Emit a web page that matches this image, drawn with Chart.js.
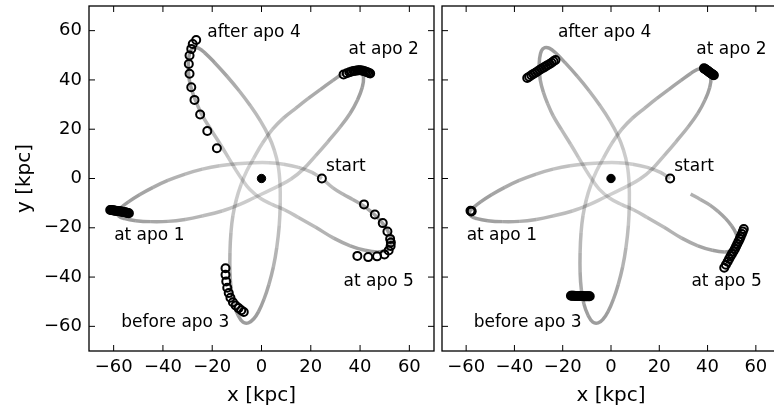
<!DOCTYPE html>
<html>
<head>
<meta charset="utf-8">
<script src="https://cdn.jsdelivr.net/npm/chart.js@4.4.0/dist/chart.umd.min.js"></script>
<style>
  html, body { margin: 0; padding: 0; background: #fff; overflow: hidden; }
  #wrap { position: relative; width: 774px; height: 413px; overflow: hidden; }
  #c1 { position: absolute; left: 0; top: 0; }
  #c2 { position: absolute; left: 436px; top: 0; }
</style>
</head>
<body>
<div id="wrap">
  <canvas id="c1" width="440" height="413"></canvas>
  <canvas id="c2" width="350" height="413"></canvas>
</div>
<script>
// --- Data (kpc) ---

const tickValues = [-60, -40, -20, 0, 20, 40, 60];

// orbit track: start -> apo1 -> apo2 -> apo3 -> apo4 -> apo5 -> back near start
const orbitX = [
    24.5, 20.5, 15, 9, 3, -3, -10, -17, -24, -31, -38, -44, -49.5, -54, -57, -58.6,
    -58, -55.5, -51, -45, -38, -31, -24, -16, -9, -3, 2, 7, 12, 17, 22, 27, 32, 36, 39, 40.9, 41.4, 40.4, 38.2, 35.6,
    33, 29, 24, 19, 14, 9, 4.5, 0.5, -3, -6, -8.3, -10.2, -11.6, -12.4, -12.8, -12.8, -12.3, -11.2, -9.5, -7.5,
    -5.3, -3.2, -1.2, 1, 3, 4.8, 6.2, 7.2, 7.6, 7.5, 6.8, 5.2, 2.8, -0.5, -4.5, -9, -14, -19, -23, -25.6, -27.4,
    -28.8, -29.6, -29.7, -29.3, -28, -26.3, -24, -20.5, -16.8, -13.5, -10.5, -7.8, -4.8, -0.5, 4.5, 9.5, 15, 22, 29.3, 36, 42, 47, 50.5, 52.3,
    52.6, 51.8, 50, 47.5, 44.5, 41, 37, 33, 29, 25.5,
];
const orbitY = [
    0, 2.5, 4.5, 5.8, 6.4, 6.4, 6, 5.2, 3.8, 1.8, -0.8, -3.6, -6.6, -9.5, -11.8, -13.5,
    -15.2, -16.3, -17.1, -17.5, -17.4, -16.6, -15.2, -13.2, -10.6, -7.8, -5.4, -3, -0.2, 3.8, 9.3, 15, 21, 26.5, 32, 37, 41, 43.5, 44.6, 44.2,
    42.6, 39.8, 36.2, 32.5, 28.6, 24.6, 20, 14.5, 8.5, 3, -2.5, -8.5, -15, -22, -30, -38, -45, -51, -55.5, -58.3,
    -58.6, -57, -54, -49, -43, -36, -28, -19, -10, -2, 5, 11.5, 17.5, 23.5, 29.5, 35.5, 41.5, 47, 51, 52.9, 53.1,
    51.8, 48.5, 45, 40, 35, 30.5, 25.5, 19.8, 14, 8.6, 3.6, -0.5, -4.4, -8, -10.6, -12.8, -15.8, -19.8, -24.2, -27.3, -29.1, -29.8, -29.2, -27.6,
    -25.2, -22.3, -19.3, -16.3, -13.5, -10.8, -8.5, -6.3, -3.8, -0.8,
];
// the right panel's track stops this many points earlier
const rightOrbitDrop = 2;

const startX = [24.5];
const startY = [0];
const centreX = [0];
const centreY = [0];

// left panel particles
const leftApo1X = [-61.4, -61, -60.6, -60.2, -59.9, -59.5, -59.1, -58.7, -58.3, -57.9, -57.5, -57.1, -56.7, -56.3, -55.9, -55.4, -55, -54.6, -54.2, -53.8];
const leftApo1Y = [-12.8, -12.8, -12.9, -12.9, -13, -13.1, -13.1, -13.2, -13.2, -13.3, -13.3, -13.4, -13.5, -13.5, -13.6, -13.7, -13.8, -13.9, -14, -14.1];
const leftApo2X = [33.3, 34.6, 35.7, 36.6, 37.4, 38.1, 38.8, 39.4, 40, 40.6, 41.2, 41.8, 42.4, 43, 43.6, 44.1];
const leftApo2Y = [42.2, 42.7, 43.1, 43.4, 43.6, 43.7, 43.8, 43.9, 43.9, 43.8, 43.7, 43.5, 43.3, 43.1, 42.8, 42.6];
const leftApo4X = [-26.5, -27.9, -28.5, -29.2, -29.5, -29.2, -28.5, -27.2, -24.9, -22, -18.1];
const leftApo4Y = [56.2, 54.6, 52.6, 49.9, 46.5, 42.5, 37, 31.9, 26, 19.3, 12.3];
const leftApo3X = [-14.6, -14.6, -14.3, -13.9, -13.3, -12.6, -11.6, -10.5, -9.3, -8.2, -7.2];
const leftApo3Y = [-36.4, -39.1, -41.8, -44.3, -46.5, -48.4, -50.2, -51.5, -52.6, -53.5, -54.2];
const leftApo5X = [41.6, 46, 49.2, 51.1, 52.2, 52.5, 52.4, 51.6, 49.9, 46.9, 43.3, 38.9];
const leftApo5Y = [-10.5, -14.6, -18.1, -21.5, -24.5, -26, -27.4, -29.2, -30.8, -31.6, -31.9, -31.4];

// right panel particles
const rightApo1X = [-58.2, -57.9, -57.7];
const rightApo1Y = [-13.1, -13.4, -13.3];
const rightApo2X = [38.5, 38.8, 39.1, 39.4, 39.7, 40, 40.3, 40.6, 40.9, 41.2, 41.5, 41.8, 42.1, 42.4, 42.6];
const rightApo2Y = [44.7, 44.5, 44.3, 44.1, 43.9, 43.7, 43.5, 43.2, 43, 42.8, 42.6, 42.4, 42.2, 42, 41.9];
const rightApo4X = [-34.7, -33.9, -33, -32.2, -31.3, -30.5, -29.6, -28.8, -27.9, -27.1, -26.3, -25.4, -24.6, -23.8, -23];
const rightApo4Y = [40.8, 41.3, 41.9, 42.4, 42.9, 43.4, 44, 44.5, 45, 45.5, 46, 46.5, 47, 47.6, 48.1];
const rightApo3X = [-16.6, -16.2, -15.8, -15.3, -14.9, -14.5, -14, -13.6, -13.2, -12.7, -12.3, -11.9, -11.4, -11, -10.5, -10.1, -9.6, -9.2, -8.8];
const rightApo3Y = [-47.6, -47.6, -47.6, -47.6, -47.7, -47.7, -47.7, -47.7, -47.7, -47.7, -47.7, -47.7, -47.8, -47.8, -47.8, -47.8, -47.8, -47.8, -47.8];
const rightApo5X = [55, 54.6, 54.2, 53.7, 53.3, 52.8, 52.3, 51.8, 51.3, 50.7, 50.1, 49.5, 48.9, 48.3, 47.6, 46.9];
const rightApo5Y = [-20.5, -21.5, -22.5, -23.6, -24.6, -25.6, -26.6, -27.6, -28.6, -29.6, -30.6, -31.6, -32.7, -33.8, -35, -36.2];

// annotations (text, data position of left edge / middle)
const noteText = ["after apo 4", "at apo 2", "start", "at apo 1", "at apo 5", "before apo 3"];
const noteX = [-22, 35.3, 26.2, -59.8, 33.3, -56.9];
const noteY = [59.1, 52.2, 5, -23.1, -42, -58.3];


// --- Helpers ---

const FONT = "'DejaVu Sans', sans-serif";

function toPoints(xs, ys) {
    return xs.map((x, i) => ({ x, y: ys[i] }));
}

function fmtTick(v) {
    return String(v).replace("-", "\u2212");
}

function segColor(ctx) {
    const a = ctx.p0.parsed, b = ctx.p1.parsed;
    const r = Math.hypot((a.x + b.x) / 2, (a.y + b.y) / 2);
    const alpha = 0.2 + 0.28 * Math.min(r / 55, 1);
    return "rgba(50, 50, 50, " + alpha.toFixed(3) + ")";
}

function noPad(s) {
    s.paddingTop = 0;
    s.paddingBottom = 0;
    s.paddingLeft = 0;
    s.paddingRight = 0;
}

const framePlugin = {
    id: "frame",
    afterDraw(chart, args, opts) {
        const { ctx, chartArea: a, scales: { x, y } } = chart;
        ctx.save();
        ctx.strokeStyle = "#000";
        ctx.lineWidth = 1.3;
        ctx.strokeRect(a.left, a.top, a.right - a.left, a.bottom - a.top);
        ctx.lineWidth = 1;
        ctx.beginPath();
        tickValues.forEach(v => {
            const px = x.getPixelForValue(v), py = y.getPixelForValue(v);
            ctx.moveTo(px, a.bottom); ctx.lineTo(px, a.bottom - 6);
            ctx.moveTo(px, a.top); ctx.lineTo(px, a.top + 6);
            ctx.moveTo(a.left, py); ctx.lineTo(a.left + 6, py);
            ctx.moveTo(a.right, py); ctx.lineTo(a.right - 6, py);
        });
        ctx.stroke();

        ctx.fillStyle = "#000";
        ctx.font = "17px " + FONT;
        ctx.textAlign = "left";
        ctx.textBaseline = "middle";
        noteText.forEach((t, i) => {
            ctx.fillText(t, x.getPixelForValue(noteX[i]), y.getPixelForValue(noteY[i]));
        });

        ctx.font = "20px " + FONT;
        ctx.textAlign = "center";
        ctx.fillText("x [kpc]", x.getPixelForValue(0), 396);
        if (opts.yTitle) {
            ctx.translate(25, y.getPixelForValue(0));
            ctx.rotate(-Math.PI / 2);
            ctx.fillText("y [kpc]", 0, 0);
        }
        ctx.restore();
    },
};

function makePanel(canvasId, particles, orbitEnd, showY, padding) {
    const ctx = document.getElementById(canvasId).getContext("2d");
    return new Chart(ctx, {
        type: "scatter",
        data: {
            datasets: [
                {
                    data: toPoints(centreX, centreY),
                    pointRadius: 4.2,
                    pointBackgroundColor: "#000",
                    pointBorderColor: "#000",
                    order: 0,
                },
                {
                    data: particles,
                    pointRadius: 4,
                    pointBorderWidth: 2,
                    pointBorderColor: "#000",
                    pointBackgroundColor: "rgba(255, 255, 255, 0)",
                    order: 1,
                },
                {
                    data: toPoints(orbitX.slice(0, orbitEnd), orbitY.slice(0, orbitEnd)),
                    showLine: true,
                    tension: 0.4,
                    borderWidth: 3.5,
                    borderCapStyle: "butt",
                    borderColor: "rgba(50, 50, 50, 0.35)",
                    segment: { borderColor: segColor },
                    pointRadius: 0,
                    order: 3,
                },
            ],
        },
        options: {
            responsive: false,
            animation: false,
            layout: { padding },
            plugins: {
                legend: { display: false },
                tooltip: { enabled: false },
                frame: { yTitle: showY },
            },
            scales: {
                x: {
                    type: "linear",
                    min: -70,
                    max: 70,
                    afterBuildTicks: s => { s.ticks = tickValues.map(v => ({ value: v })); },
                    afterFit: s => { s.height = 62; noPad(s); },
                    grid: { display: false, drawTicks: false },
                    border: { display: false },
                    ticks: {
                        color: "#000",
                        padding: 6,
                        maxRotation: 0,
                        font: { family: FONT, size: 18 },
                        callback: fmtTick,
                    },
                },
                y: {
                    type: "linear",
                    min: -70,
                    max: 70,
                    display: showY,
                    afterBuildTicks: s => { s.ticks = tickValues.map(v => ({ value: v })); },
                    afterFit: s => { s.width = showY ? 89 : 0; noPad(s); },
                    grid: { display: false, drawTicks: false },
                    border: { display: false },
                    ticks: {
                        color: "#000",
                        padding: 7,
                        font: { family: FONT, size: 18 },
                        callback: fmtTick,
                    },
                },
            },
        },
        plugins: [framePlugin],
    });
}

const leftParticles = [].concat(
    toPoints(startX, startY),
    toPoints(leftApo1X, leftApo1Y),
    toPoints(leftApo2X, leftApo2Y),
    toPoints(leftApo3X, leftApo3Y),
    toPoints(leftApo4X, leftApo4Y),
    toPoints(leftApo5X, leftApo5Y)
);
const rightParticles = [].concat(
    toPoints(startX, startY),
    toPoints(rightApo1X, rightApo1Y),
    toPoints(rightApo2X, rightApo2Y),
    toPoints(rightApo3X, rightApo3Y),
    toPoints(rightApo4X, rightApo4Y),
    toPoints(rightApo5X, rightApo5Y)
);

makePanel("c1", leftParticles, orbitX.length, true, { left: 0, top: 5, right: 3.3, bottom: 0 });
makePanel("c2", rightParticles, orbitX.length - rightOrbitDrop, false, { left: 2.7, top: 5, right: 2, bottom: 0 });
</script>
</body>
</html>
